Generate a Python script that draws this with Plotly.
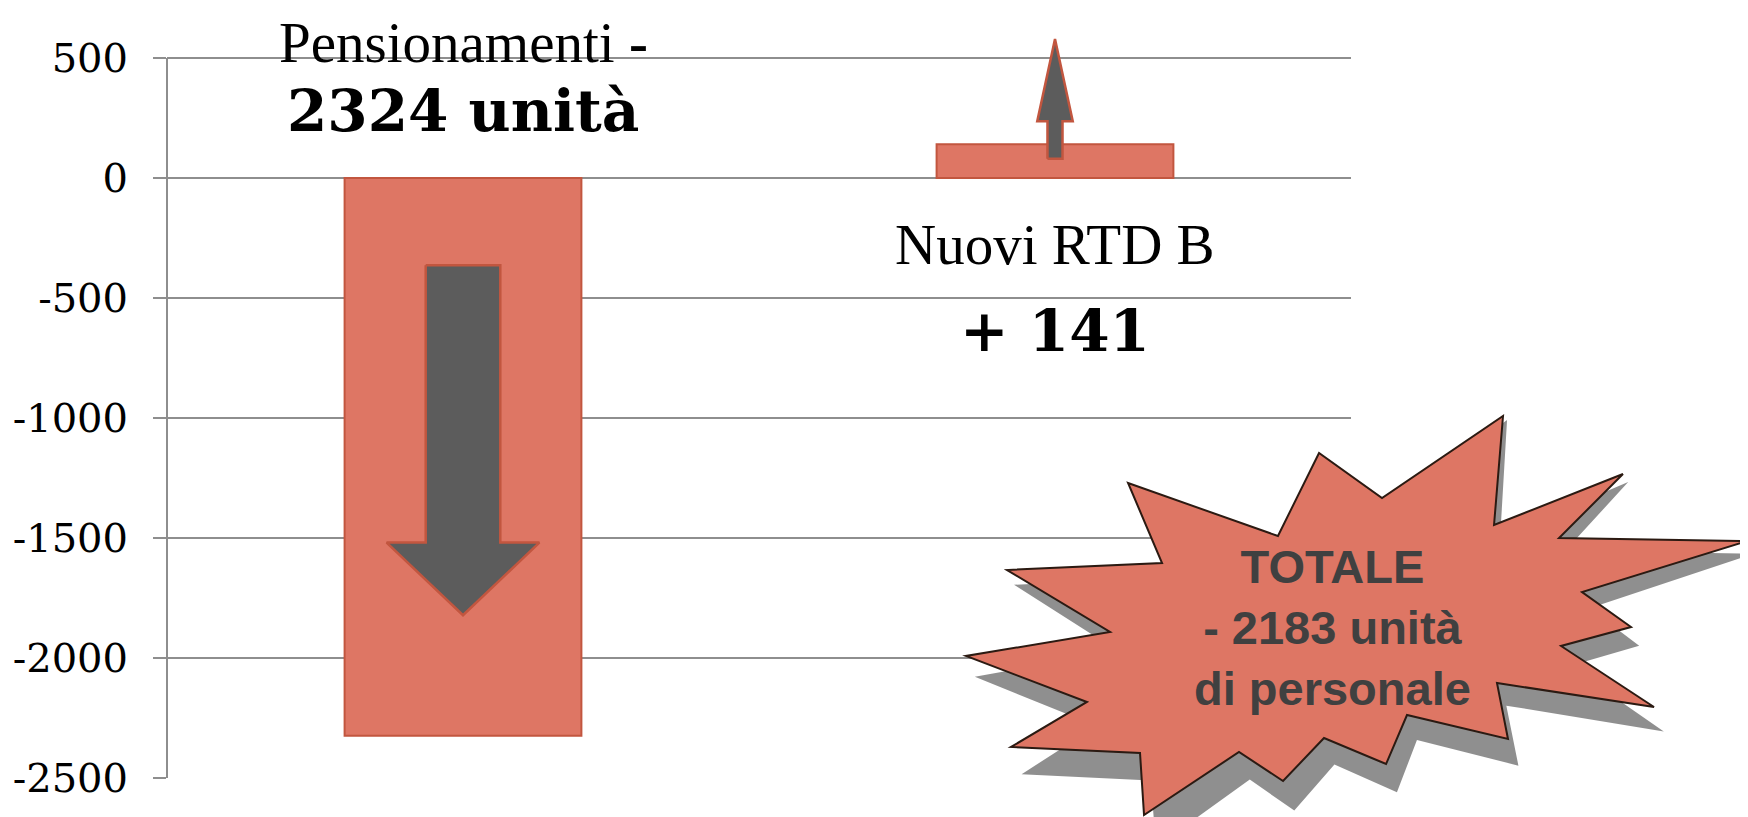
import plotly.graph_objects as go

# --- Data ---
categories = ["Pensionamenti", "Nuovi RTD B"]
values = [-2324, 141]
# block arrows laid over each bar: tail, neck (start of head) and tip, in data units
arrow_tail = [-364, 80]
arrow_neck = [-1519, 236]
arrow_tip = [-1822, 579]
y_ticks = [500, 0, -500, -1000, -1500, -2000, -2500]

total = sum(values)

# --- Style ---
W, H = 1748, 817
OFF = 8  # the page body margin shifts the figure
L, R, T, B = 167 - OFF, 397 + OFF, 10 - OFF, 39 + OFF
BAR = '#DE7664'
BAR_EDGE = '#C2563F'
ARROW = '#5C5C5C'
GRID = '#8E8E8E'
SERIF = 'Liberation Serif, Times New Roman, serif'
NUM_SERIF = 'DejaVu Serif, Georgia, serif'

shaft_hw = [0.063, 0.0127]
head_hw = [0.129, 0.030]
label_y = [566, -279]
value_y = [279, -637]

# starburst callout, outline in page pixels
STAR = [(1503, 416), (1494, 525), (1623, 474), (1559, 538), (1747, 541), (1582, 592),
        (1631, 627), (1561, 646), (1654, 707), (1497, 683), (1508, 739), (1407, 715),
        (1386, 764), (1324, 738), (1283, 781), (1239, 752), (1144, 815), (1140, 753),
        (1011, 747), (1087, 702), (966, 656), (1110, 632), (1007, 570), (1162, 563),
        (1128, 483), (1278, 536), (1319, 453), (1382, 498)]


def to_paper(px, py):
    fx, fy = px - OFF, py - OFF
    return (fx - L) / (W - L - R), (H - B - fy) / (H - T - B)


def star_path(shadow=False):
    pts = []
    for x, y in STAR:
        if shadow:
            # shadow falls mostly downward, growing towards the bottom
            d = y - 416
            x, y = x + 4 + 0.02 * d, y + 4 + 0.07 * d
        pts.append(to_paper(x, y))
    return 'M ' + ' L '.join(f'{x:.4f},{y:.4f}' for x, y in pts) + ' Z'


def block_arrow(xc, tail, neck, tip, shaft, head):
    xs = [xc - shaft, xc + shaft, xc + shaft, xc + head, xc, xc - head, xc - shaft, xc - shaft]
    ys = [tail, tail, neck, neck, tip, neck, neck, tail]
    return xs, ys


xs = list(range(len(categories)))

fig = go.Figure()
fig.add_trace(go.Bar(
    x=xs, y=values, width=0.40,
    marker=dict(color=BAR, line=dict(color=BAR_EDGE, width=2)),
    hoverinfo='skip'
))

for i in xs:
    ax, ay = block_arrow(i, arrow_tail[i], arrow_neck[i], arrow_tip[i], shaft_hw[i], head_hw[i])
    fig.add_trace(go.Scatter(
        x=ax, y=ay, mode='lines', fill='toself', fillcolor=ARROW,
        line=dict(color=BAR_EDGE, width=2.5), hoverinfo='skip'
    ))

# category and value labels
for i, (name, v) in enumerate(zip(categories, values)):
    name_txt = name + ' <b>-</b>' if v < 0 else name
    val_txt = f'{abs(v)} unità' if v < 0 else f'+ {v}'
    fig.add_annotation(x=i, y=label_y[i], text=name_txt, showarrow=False, borderpad=0,
                       font=dict(family=SERIF, size=57, color='black'))
    fig.add_annotation(x=i, y=value_y[i], text=f'<b>{val_txt}</b>', showarrow=False,
                       font=dict(family=NUM_SERIF, size=58, color='black'))

# y axis line only over the tick range
fig.add_shape(type='line', xref='paper', yref='y', x0=0, x1=0,
              y0=min(y_ticks), y1=max(y_ticks), line=dict(color=GRID, width=2))

# starburst callout with its shadow
fig.add_shape(type='path', xref='paper', yref='paper', path=star_path(shadow=True),
              fillcolor='rgba(115,115,115,0.8)', line=dict(width=0), layer='above')
fig.add_shape(type='path', xref='paper', yref='paper', path=star_path(),
              fillcolor=BAR, line=dict(color='#2B1A12', width=2), layer='above')
cx, cy = to_paper(1332, 627)
fig.add_annotation(
    xref='paper', yref='paper', x=cx, y=cy, xanchor='center', yanchor='middle',
    showarrow=False,
    text=f'<b>TOTALE<br>- {abs(total)} unità<br>di personale</b>',
    font=dict(family='Liberation Sans, Arial, sans-serif', size=47, color='#404040')
)

fig.update_layout(
    width=W, height=H,
    margin=dict(l=L, r=R, t=T, b=B),
    plot_bgcolor='white', paper_bgcolor='white',
    showlegend=False,
    xaxis=dict(range=[-0.5, 1.5], showticklabels=False, showgrid=False,
               zeroline=False, showline=False, ticks=''),
    yaxis=dict(
        range=[-2500, 700],
        tickvals=y_ticks, ticktext=[str(v) for v in y_ticks],
        showgrid=True, gridcolor=GRID, gridwidth=2,
        zeroline=False, showline=False,
        ticks='outside', ticklen=13, tickcolor=GRID, tickwidth=2,
        ticklabelstandoff=17,
        tickfont=dict(family=NUM_SERIF, size=40, color='black')
    )
)

fig.write_html("out.html")
